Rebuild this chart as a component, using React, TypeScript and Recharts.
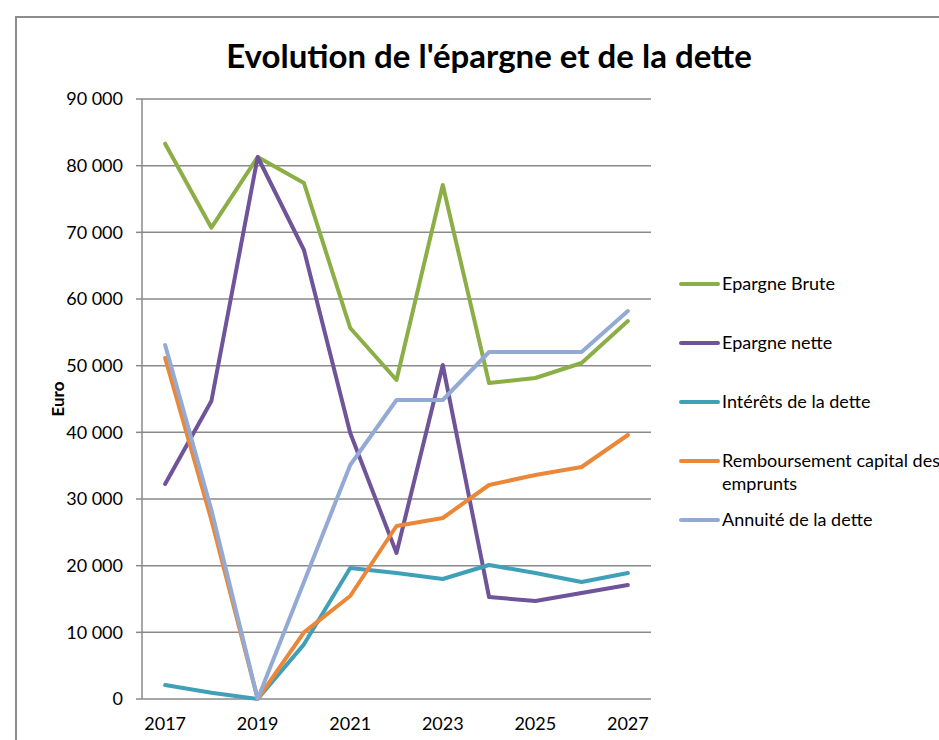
import React from 'react';
import { LineChart, Line, XAxis, YAxis, CartesianGrid, Legend, Label } from 'recharts';

const years = [2017, 2018, 2019, 2020, 2021, 2022, 2023, 2024, 2025, 2026, 2027];
const epargneBrute = [83300, 70700, 81300, 77400, 55650, 47850, 77100, 47400, 48150, 50400, 56700];
const epargneNette = [32250, 44700, 81300, 67350, 39900, 21900, 50100, 15300, 14700, 15900, 17100];
const interets = [2100, 950, 0, 8200, 19650, 18900, 18000, 20100, 18900, 17550, 18900];
const remboursement = [51150, 26850, 0, 10000, 15450, 25950, 27150, 32100, 33600, 34800, 39600];
const annuite = [53100, 28350, 0, 17550, 35100, 44850, 44850, 52050, 52050, 52050, 58200];

const yTicks = [0, 10000, 20000, 30000, 40000, 50000, 60000, 70000, 80000, 90000];
const xLabelTicks = [2017, 2019, 2021, 2023, 2025, 2027];
const xMarkTicks = [2016.5, 2017.5, 2018.5, 2019.5, 2020.5, 2021.5, 2022.5, 2023.5, 2024.5, 2025.5, 2026.5, 2027.5];

const seriesNames = [
  'Epargne Brute',
  'Epargne nette',
  'Intérêts de la dette',
  'Remboursement capital des emprunts',
  'Annuité de la dette',
];
const seriesColors = ['#8BAE46', '#6F549A', '#3FA0B8', '#EB8738', '#92AAD4'];

const data = years.map((y, i) => ({
  year: y,
  s0: epargneBrute[i],
  s1: epargneNette[i],
  s2: interets[i],
  s3: remboursement[i],
  s4: annuite[i],
}));

const fmt = (v: number) => String(v).replace(/\B(?=(\d{3})+(?!\d))/g, ' ');

const FONT = 'Lato, Carlito, Calibri, sans-serif';
const GRID = '#8a8a8a';

function EuroLabel(props: any) {
  const vb = props.viewBox || { x: 0, y: 0, width: 0, height: 0 };
  const cx = vb.x + 57;
  const cy = vb.y + vb.height / 2;
  return (
    <text
      x={cx}
      y={cy}
      transform={`rotate(-90 ${cx} ${cy})`}
      textAnchor="middle"
      dominantBaseline="central"
      fontFamily={FONT}
      fontWeight="bold"
      fontSize={17}
      fill="#000"
    >
      Euro
    </text>
  );
}

function LegendContent(props: any) {
  const payload = [...(props.payload || [])].sort(
    (a: any, b: any) => seriesNames.indexOf(a.value) - seriesNames.indexOf(b.value)
  );
  return (
    <div style={{ fontFamily: FONT, textAlign: 'left' }}>
      {payload.map((p: any) => (
        <div key={p.value} style={{ height: 59, display: 'flex', alignItems: 'flex-start' }}>
          <div style={{ width: 41, height: 4, marginTop: 9.5, background: p.color, borderRadius: 2, flex: 'none' }} />
          <div
            style={{ marginLeft: 2, fontSize: 18, lineHeight: '23px', color: '#000', width: 232, flex: 'none' }}
          >
            {p.value}
          </div>
        </div>
      ))}
    </div>
  );
}

export default function App() {
  return (
    <div
      style={{
        position: 'absolute',
        left: 0,
        top: 0,
        width: 939,
        height: 740,
        overflow: 'hidden',
        background: '#fff',
        fontFamily: FONT,
      }}
    >
      <div
        style={{
          position: 'absolute',
          left: 15,
          top: 16,
          width: 1000,
          height: 800,
          border: '2px solid #8c8c8c',
          boxSizing: 'border-box',
        }}
      />
      <div
        style={{
          position: 'absolute',
          left: 0,
          top: 39,
          width: 978,
          textAlign: 'center',
          fontSize: 33,
          lineHeight: '33px',
          fontWeight: 'bold',
          color: '#000',
        }}
      >
        Evolution de l'épargne et de la dette
      </div>
      <div style={{ position: 'absolute', left: 0, top: 0 }}>
        <LineChart width={939} height={740} data={data} margin={{ top: 99, right: 288, bottom: 11, left: 0 }}>
          <CartesianGrid vertical={false} stroke={GRID} strokeWidth={1.5} xAxisId="year" />
          <XAxis
            xAxisId="marks"
            dataKey="year"
            type="number"
            domain={[2016.5, 2027.5]}
            ticks={xMarkTicks}
            height={0}
            tickSize={6}
            axisLine={{ stroke: GRID, strokeWidth: 1.5 }}
            tickLine={{ stroke: GRID, strokeWidth: 1.5 }}
            tickFormatter={() => ''}
            interval={0}
          />
          <XAxis
            xAxisId="year"
            dataKey="year"
            type="number"
            domain={[2016.5, 2027.5]}
            ticks={xLabelTicks}
            height={30}
            tickSize={6}
            tickMargin={12}
            axisLine={false}
            tickLine={false}
            interval={0}
            tick={{ fontSize: 18, fill: '#000', fontFamily: FONT }}
          />
          <YAxis
            type="number"
            domain={[0, 90000]}
            ticks={yTicks}
            width={142}
            tickSize={6}
            tickMargin={13}
            interval={0}
            tickFormatter={fmt}
            axisLine={{ stroke: GRID, strokeWidth: 1.5 }}
            tickLine={{ stroke: GRID, strokeWidth: 1.5 }}
            tick={{ fontSize: 18, fill: '#000', fontFamily: FONT }}
          >
            <Label content={<EuroLabel />} />
          </YAxis>
          <Legend
            layout="horizontal"
            align="center"
            verticalAlign="middle"
            content={<LegendContent />}
            wrapperStyle={{ left: 679, top: 272, width: 280 }}
          />
          {seriesNames.map((name, i) => (
            <Line
              key={name}
              xAxisId="year"
              type="linear"
              dataKey={`s${i}`}
              name={name}
              stroke={seriesColors[i]}
              strokeWidth={4}
              strokeLinejoin="round"
              strokeLinecap="round"
              dot={false}
              activeDot={false}
              isAnimationActive={false}
            />
          ))}
        </LineChart>
      </div>
    </div>
  );
}
